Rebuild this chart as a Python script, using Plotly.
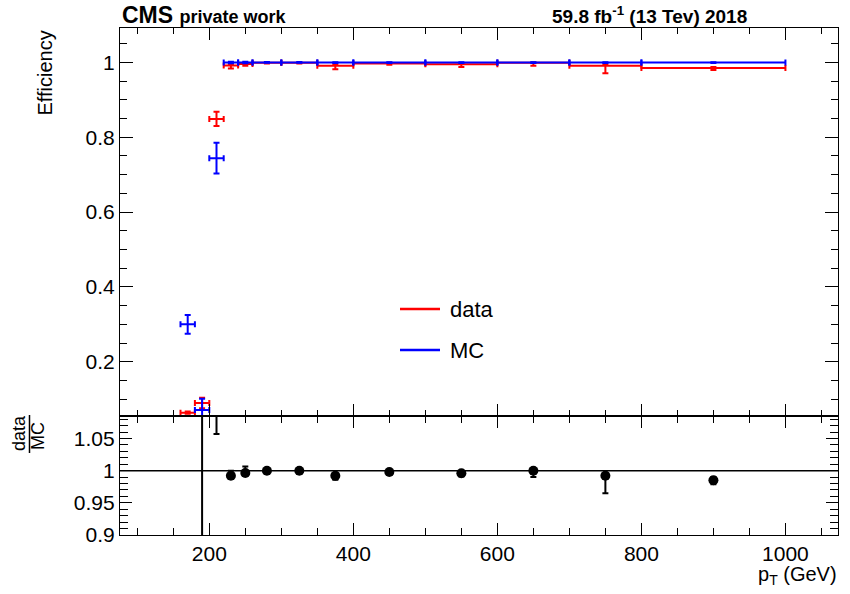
import plotly.graph_objects as go

# ---------------- data ----------------
pt_center = [170, 190, 210, 230, 250, 280, 325, 375, 450, 550, 650, 750, 900]
pt_halfwidth = [10, 10, 10, 10, 10, 20, 25, 25, 50, 50, 50, 50, 100]

eff_data = [0.064, 0.090, 0.849, 0.992, 0.996, 0.999, 0.999, 0.991, 0.997, 0.995, 0.999, 0.991, 0.985]
err_data_up = [0.003, 0.014, 0.019, 0.004, 0.003, 0.001, 0.001, 0.004, 0.002, 0.002, 0.001, 0.004, 0.003]
err_data_down = [0.003, 0.014, 0.019, 0.008, 0.005, 0.002, 0.002, 0.009, 0.003, 0.007, 0.008, 0.020, 0.005]

eff_mc = [0.300, 0.071, 0.744, 0.9995, 0.9995, 1.0, 1.0, 0.9995, 0.9995, 0.9995, 0.9995, 0.9995, 0.9995]
err_mc = [0.025, 0.030, 0.041, 0.002, 0.002, 0.001, 0.001, 0.001, 0.001, 0.001, 0.001, 0.001, 0.001]

ratio = [0.21, 1.27, 1.14, 0.992, 0.9965, 1.0, 1.0, 0.992, 0.998, 0.996, 1.0, 0.992, 0.985]
ratio_err_up = [0.01, 1.0, 0.083, 0.008, 0.010, 0.002, 0.002, 0.004, 0.003, 0.003, 0.003, 0.004, 0.005]
ratio_err_down = [0.01, 1.0, 0.083, 0.003, 0.004, 0.002, 0.002, 0.006, 0.004, 0.005, 0.010, 0.027, 0.006]

x_tickvals = [200, 400, 600, 800, 1000]
eff_tickvals = [0.2, 0.4, 0.6, 0.8, 1.0]
eff_ticktext = ["0.2", "0.4", "0.6", "0.8", "1"]
ratio_tickvals = [0.9, 0.95, 1.0, 1.05]
ratio_ticktext = ["0.9", "0.95", "1", "1.05"]

RED = "#ff0000"
BLUE = "#0000ff"
FONT = "Liberation Sans, Arial, Helvetica, sans-serif"

# pixel helpers for annotation placement (frame: x 120..838, y 28..535)
L, R, T, B = 120, 838, 28, 535
def px(x):
    return (x - L) / (R - L)
def py(y):
    return (B - y) / (B - T)

fig = go.Figure()

def eff_trace(y, eup, edown, color, name):
    return go.Scatter(
        x=pt_center, y=y, mode="markers", name=name,
        marker=dict(size=1, color=color),
        error_x=dict(type="data", array=pt_halfwidth, color=color, thickness=2, width=3),
        error_y=dict(type="data", symmetric=False, array=eup, arrayminus=edown,
                     color=color, thickness=2, width=3),
        xaxis="x", yaxis="y", showlegend=False, cliponaxis=True,
    )

fig.add_trace(eff_trace(eff_data, err_data_up, err_data_down, RED, "data"))
fig.add_trace(eff_trace(eff_mc, err_mc, err_mc, BLUE, "MC"))

fig.add_trace(go.Scatter(
    x=pt_center, y=ratio, mode="markers",
    marker=dict(size=10, color="black"),
    error_y=dict(type="data", symmetric=False, array=ratio_err_up, arrayminus=ratio_err_down,
                 color="black", thickness=2, width=3),
    xaxis="x2", yaxis="y2", showlegend=False, cliponaxis=True,
))

xrange = [76, 1073]
split = (B - 416) / (B - T)

axis_common = dict(
    showline=True, linecolor="black", linewidth=1.2, mirror="allticks",
    ticks="inside", tickcolor="black", showgrid=False, zeroline=False,
    tickfont=dict(family=FONT, size=21, color="black"),
)

fig.update_layout(
    width=850, height=594,
    margin=dict(l=L, r=850 - R, t=T, b=594 - B),
    paper_bgcolor="white", plot_bgcolor="white",
    showlegend=False,
    xaxis=dict(domain=[0, 1], anchor="y", range=xrange, tickvals=x_tickvals,
               showticklabels=False, ticklen=12, tickwidth=1,
               minor=dict(ticks="inside", dtick=50, tick0=0, ticklen=6, tickcolor="black"),
               **axis_common),
    yaxis=dict(domain=[split, 1], anchor="x", range=[0.055, 1.092],
               tickvals=eff_tickvals, ticktext=eff_ticktext, ticklen=13, tickwidth=1,
               minor=dict(ticks="inside", dtick=0.05, tick0=0, ticklen=7, tickcolor="black"),
               **axis_common),
    xaxis2=dict(domain=[0, 1], anchor="y2", range=xrange, matches="x",
                tickvals=x_tickvals, ticklen=12, tickwidth=1,
                minor=dict(ticks="inside", dtick=50, tick0=0, ticklen=7, tickcolor="black"),
                **axis_common),
    yaxis2=dict(domain=[0, split], anchor="x2", range=[0.9, 1.085],
                tickvals=ratio_tickvals, ticktext=ratio_ticktext, ticklen=12, tickwidth=1,
                minor=dict(ticks="inside", dtick=0.01, tick0=0, ticklen=8, tickcolor="black"),
                **axis_common),
)

shapes = [
    # unity line in ratio panel
    dict(type="line", xref="x2 domain", yref="y2", x0=0, x1=1, y0=1, y1=1,
         line=dict(color="black", width=1.5)),
    # legend lines
    dict(type="line", xref="paper", yref="paper", x0=px(400), x1=px(440), y0=py(309), y1=py(309),
         line=dict(color=RED, width=2.5)),
    dict(type="line", xref="paper", yref="paper", x0=px(400), x1=px(440), y0=py(350), y1=py(350),
         line=dict(color=BLUE, width=2.5)),
    # fraction bar for data/MC
    dict(type="line", xref="paper", yref="paper", x0=px(29.5), x1=px(29.5), y0=py(415), y1=py(453),
         line=dict(color="black", width=1.5)),
]
fig.update_layout(shapes=shapes)

ann = [
    dict(text="<b>CMS</b> <b><span style='font-size:18px'>private work</span></b>",
         x=px(120), y=py(15), xanchor="left", yanchor="middle",
         font=dict(family=FONT, size=23, color="black")),
    dict(text="<b>59.8 fb<sup>-1</sup> (13 Tev) 2018</b>",
         x=px(749), y=py(15), xanchor="right", yanchor="middle",
         font=dict(family=FONT, size=19, color="black")),
    dict(text="Efficiency", textangle=-90, x=px(44), y=py(29), xanchor="center", yanchor="top",
         font=dict(family=FONT, size=20, color="black")),
    dict(text="p<sub>T</sub> (GeV)", x=px(839), y=py(575), xanchor="right", yanchor="middle",
         font=dict(family=FONT, size=20, color="black")),
    dict(text="data", x=px(448), y=py(309), xanchor="left", yanchor="middle",
         font=dict(family=FONT, size=22, color="black")),
    dict(text="MC", x=px(448), y=py(350), xanchor="left", yanchor="middle",
         font=dict(family=FONT, size=22, color="black")),
    dict(text="data", textangle=-90, x=px(19), y=py(433), xanchor="center", yanchor="middle",
         font=dict(family=FONT, size=18, color="black")),
    dict(text="MC", textangle=-90, x=px(38), y=py(436), xanchor="center", yanchor="middle",
         font=dict(family=FONT, size=18, color="black")),
]
for a in ann:
    a.update(xref="paper", yref="paper", showarrow=False)
fig.update_layout(annotations=ann)

fig.write_html("out.html")
